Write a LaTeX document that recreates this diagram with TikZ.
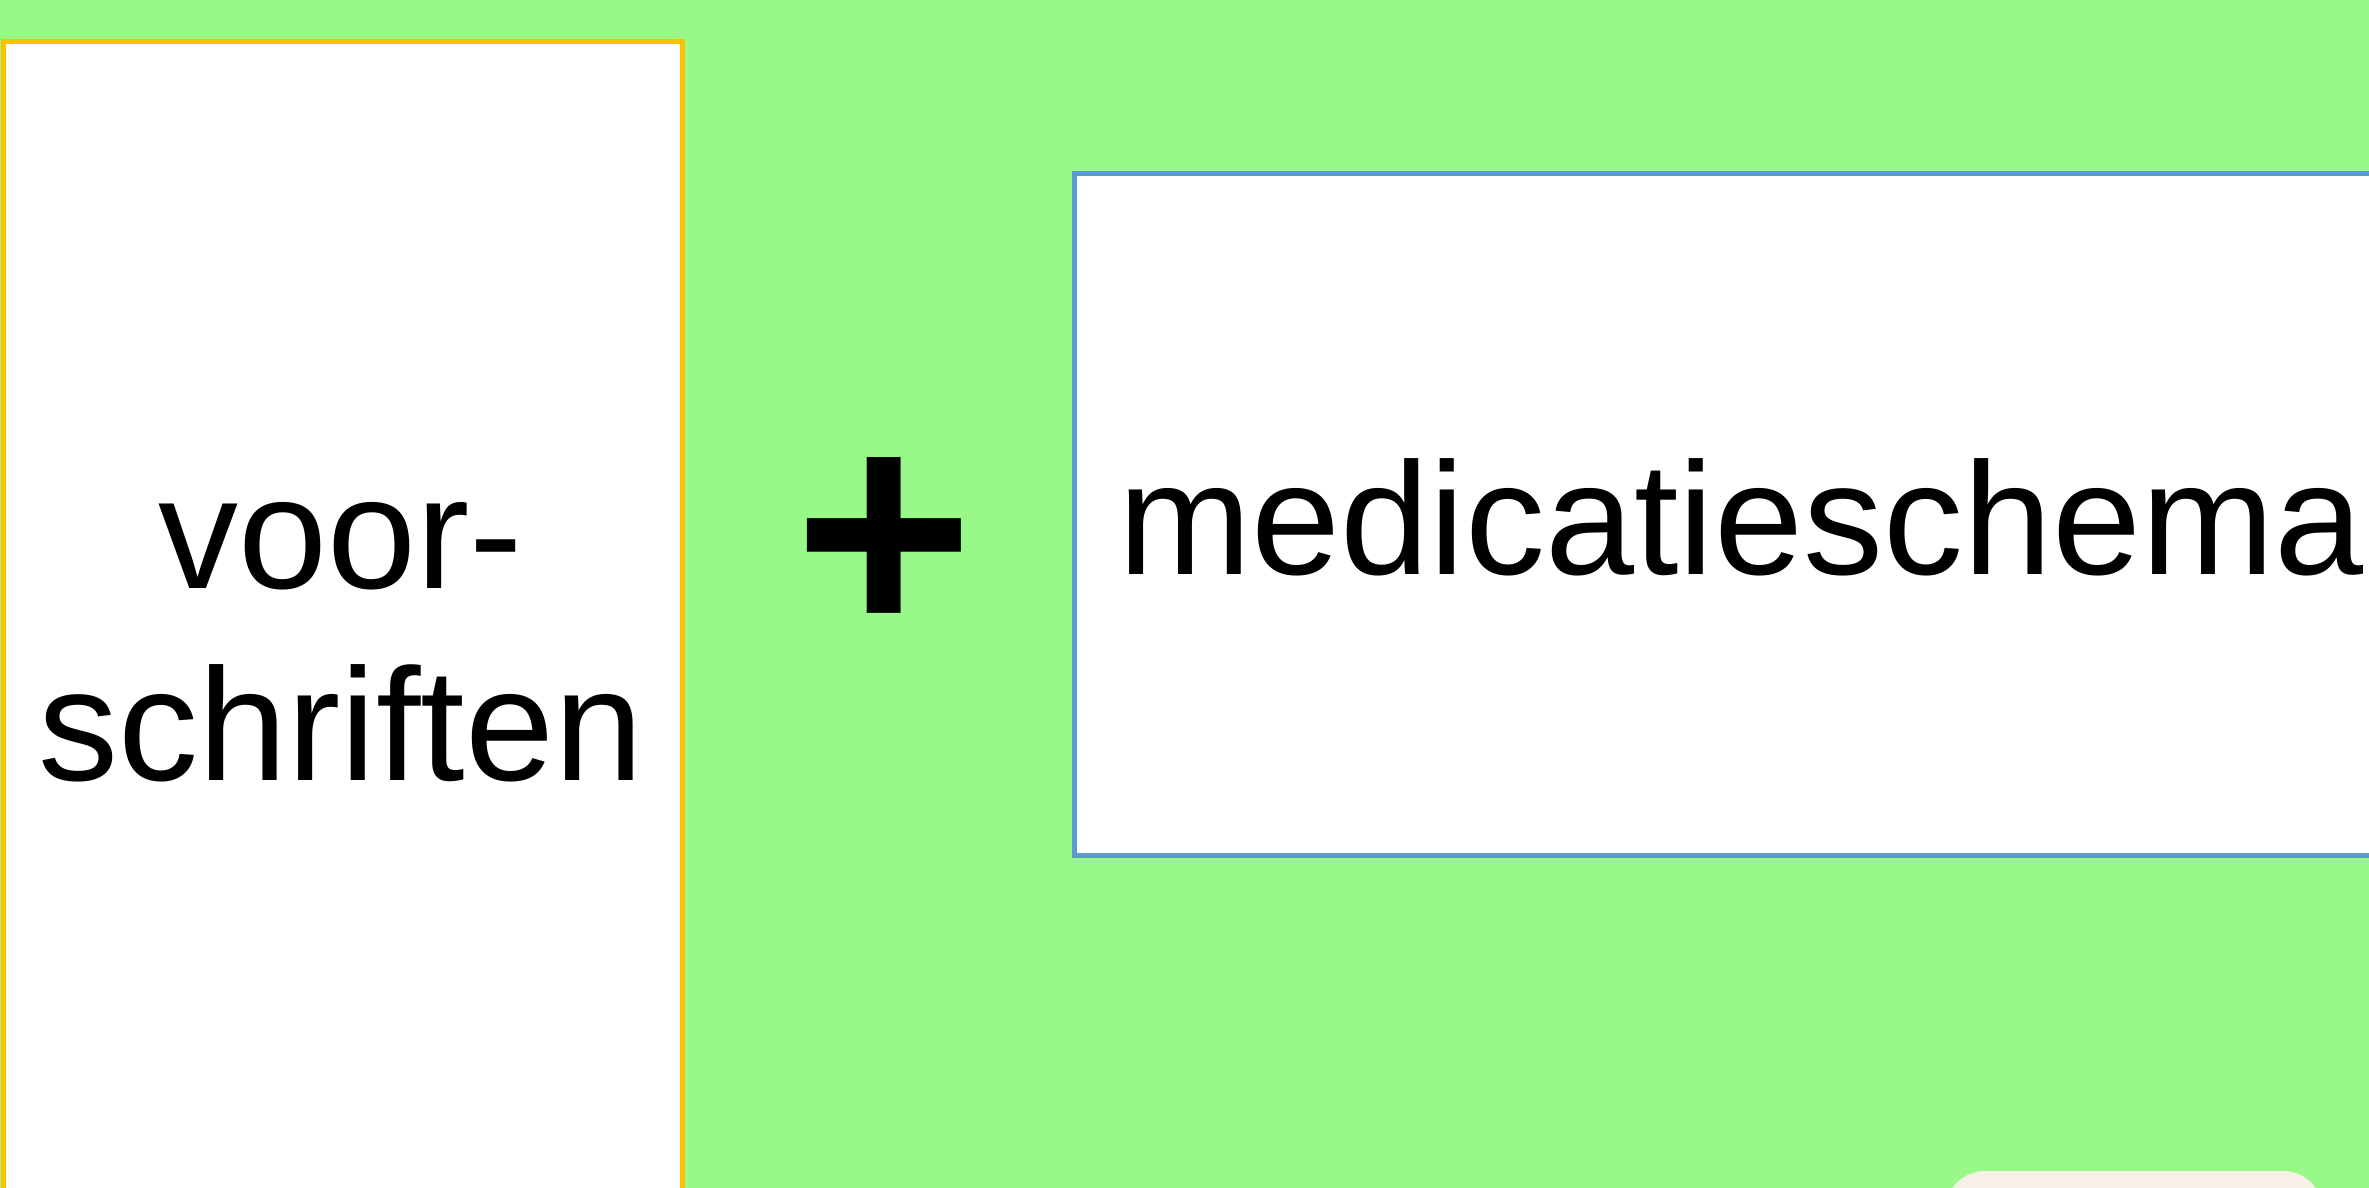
\documentclass[tikz,border=0pt]{standalone}
\usepackage{fontspec}
\setmainfont{Liberation Sans}
\definecolor{bggreen}{RGB}{152,248,136}
\definecolor{boxyellow}{RGB}{255,192,0}
\definecolor{boxblue}{RGB}{91,155,213}
\definecolor{notebeige}{RGB}{247,240,230}
\tikzset{panel/.style={fill=white, line width=0.05cm},
  bigtext/.style={inner sep=0pt, font=\fontsize{45.5}{54.6}\selectfont}}
\begin{document}
\begin{tikzpicture}[x=0.01cm, y=-0.01cm]
\useasboundingbox (0,0) rectangle (2369,1188);
\clip (0,0) rectangle (2369,1188);
\fill[bggreen] (0,0) rectangle (2369,1188);
% the two panels run off the page
\filldraw[panel, draw=boxyellow] (3.5,41.5) rectangle (682,1216);
\filldraw[panel, draw=boxblue] (1074.5,173.5) rectangle (2408,855);
\fill[notebeige, rounded corners=0.4cm] (1945,1260) rectangle (2323,1171);
\node[bigtext, align=center] (voor) at (341,642) {voor-\\schriften};
\node[inner sep=0pt, font=\fontsize{87.3}{100}\bfseries\selectfont] (plus) at (884,547) {+};
\node[bigtext, anchor=base] (schema) at (1741,574) {medicatieschema};
\end{tikzpicture}
\end{document}
